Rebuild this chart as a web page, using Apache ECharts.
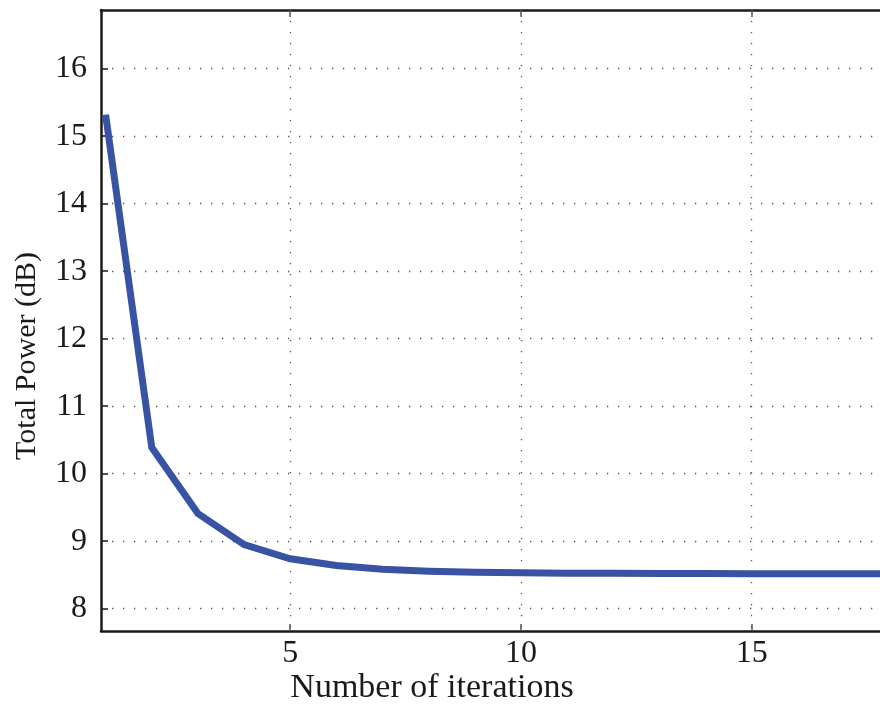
<!DOCTYPE html>
<html>
<head>
<meta charset="utf-8">
<script src="https://cdn.jsdelivr.net/npm/echarts@6/dist/echarts.min.js"></script>
<style>html,body{margin:0;padding:0;background:#fff;}#c{width:880px;height:704px;}</style>
</head>
<body>
<div id="c"></div>
<script>
const iterations = [1,2,3,4,5,6,7,8,9,10,11,12,13,14,15,16,17,18];
const totalPower = [15.32,10.39,9.41,8.95,8.74,8.64,8.585,8.555,8.54,8.532,8.527,8.524,8.522,8.521,8.52,8.52,8.52,8.52];
const xTicks = [5,10,15];
const yTicks = [8,9,10,11,12,13,14,15,16];
const xTitle = 'Number of iterations';
const yTitle = 'Total Power (dB)';

const font = 'Liberation Serif';
const chart = echarts.init(document.getElementById('c'));
const grid = {left:101, top:10, right:0, bottom:73};
chart.setOption({
  animation:false,
  grid: Object.assign({containLabel:false, show:false}, grid),
  xAxis:[{
    type:'value', min:0.9, max:17.78,
    axisLine:{show:true, onZero:false, lineStyle:{color:'#1a1a1a', width:2.5}},
    axisTick:{show:true, inside:true, length:7, customValues:xTicks, lineStyle:{color:'#555', width:1.5}},
    axisLabel:{customValues:xTicks, color:'#1a1a1a', fontFamily:font, fontSize:32, margin:7},
    splitLine:{show:true, lineStyle:{color:'#555', width:1.3, type:[1.3,9.7]}}
  },{
    type:'value', position:'top', min:0.9, max:17.78,
    axisLine:{show:true, onZero:false, lineStyle:{color:'#1a1a1a', width:2.5}},
    axisTick:{show:true, inside:true, length:7, customValues:xTicks, lineStyle:{color:'#555', width:1.5}},
    axisLabel:{show:false}, splitLine:{show:false}
  }],
  yAxis:[{
    type:'value', min:7.67, max:16.87,
    axisLine:{show:true, onZero:false, lineStyle:{color:'#1a1a1a', width:2.5}},
    axisTick:{show:true, inside:true, length:7, customValues:yTicks, lineStyle:{color:'#1a1a1a', width:1.5}},
    axisLabel:{customValues:yTicks, color:'#1a1a1a', fontFamily:font, fontSize:32, margin:14},
    splitLine:{show:true, lineStyle:{color:'#555', width:1.3, type:[1.3,9.7]}}
  }],
  series:[{
    type:'line', xAxisIndex:0,
    data: iterations.map((x,i)=>[x, totalPower[i]]),
    showSymbol:false, symbol:'none',
    lineStyle:{color:'#3953a4', width:7, cap:'butt', join:'miter'}
  }],
  graphic:[
    {type:'text', x:432, y:688, style:{text:xTitle, x:0, y:0, align:'center', verticalAlign:'middle', font:'34px "Liberation Serif"', fill:'#1a1a1a'}},
    {type:'text', rotation:Math.PI/2, x:27, y:356, style:{text:yTitle, x:0, y:0, align:'center', verticalAlign:'middle', font:'30px "Liberation Serif"', fill:'#1a1a1a'}}
  ]
});
</script>
</body>
</html>
